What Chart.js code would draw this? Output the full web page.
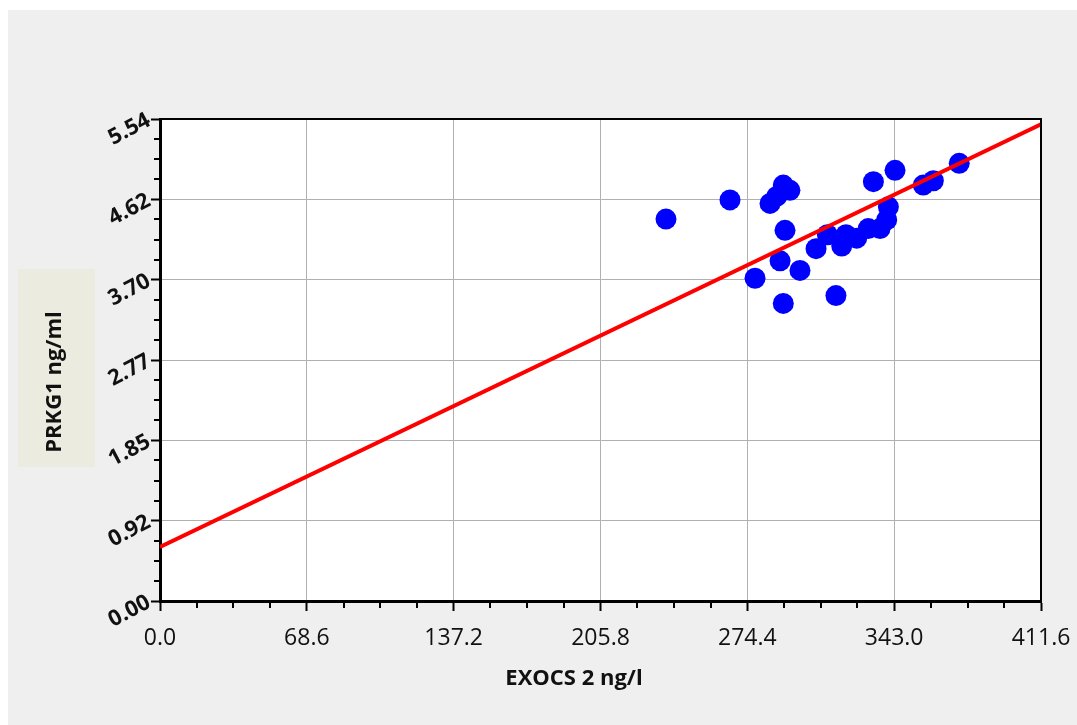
<!DOCTYPE html>
<html>
<head>
<meta charset="utf-8">
<script src="https://cdn.jsdelivr.net/npm/chart.js@4.4.1/dist/chart.umd.min.js"></script>
<style>
  html, body { margin: 0; padding: 0; background: #ffffff; }
  #panel { position: absolute; left: 8px; top: 10px; width: 1069px; height: 715px; background: #efefef; }
</style>
</head>
<body>
<div id="panel"><canvas id="scatter" width="1069" height="715"></canvas></div>
<script>
/* EXOCS 2 (ng/l) vs PRKG1 (ng/ml) */
var EXOCS2 = [236.4, 266.3, 278.0, 285.0, 288.1, 291.2, 294.3, 292.0, 289.7, 291.2,
              299.0, 306.5, 311.8, 315.8, 318.5, 320.5, 325.5, 330.9, 336.4, 339.5,
              340.3, 333.3, 343.4, 356.6, 361.3, 373.4];
var PRKG1  = [4.39, 4.61, 3.71, 4.57, 4.65, 4.78, 4.72, 4.26, 3.91, 3.42,
              3.80, 4.05, 4.21, 3.51, 4.08, 4.21, 4.17, 4.28, 4.28, 4.38,
              4.53, 4.82, 4.95, 4.78, 4.83, 5.03];

/* fitted line, end points */
var FIT_X = [0, 411.6];
var FIT_Y = [0.62, 5.48];

/* axis ticks */
var X_TICKS  = [0, 68.6, 137.2, 205.8, 274.4, 343.0, 411.6];
var X_LABELS = ['0.0', '68.6', '137.2', '205.8', '274.4', '343.0', '411.6'];
var Y_TICKS  = [0, 0.923, 1.847, 2.77, 3.693, 4.617, 5.54];
var Y_LABELS = ['0.00', '0.92', '1.85', '2.77', '3.70', '4.62', '5.54'];

var X_TITLE = 'EXOCS 2 ng/l';
var Y_TITLE = 'PRKG1 ng/ml';

var points = EXOCS2.map(function (x, i) { return { x: x, y: PRKG1[i] }; });
var fit = FIT_X.map(function (x, i) { return { x: x, y: FIT_Y[i] }; });

function subdivide(ticks, n) {
  var out = [];
  for (var i = 0; i < ticks.length - 1; i++) {
    for (var k = 1; k < n; k++) out.push(ticks[i] + (ticks[i + 1] - ticks[i]) * k / n);
  }
  return out;
}
var X_MINOR = subdivide(X_TICKS, 4);
var Y_MINOR = subdivide(Y_TICKS, 4);

/* white plot area, frame, minor ticks, axis titles */
var decor = {
  id: 'decor',
  beforeDraw: function (chart) {
    var a = chart.chartArea, ctx = chart.ctx;
    ctx.save();
    ctx.fillStyle = '#ffffff';
    ctx.fillRect(a.left, a.top, a.right - a.left, a.bottom - a.top);
    ctx.restore();
  },
  afterDraw: function (chart) {
    var a = chart.chartArea, ctx = chart.ctx;
    var xs = chart.scales.x, ys = chart.scales.y;
    ctx.save();
    ctx.strokeStyle = '#000';
    ctx.lineWidth = 2;
    ctx.beginPath();
    ctx.moveTo(a.left, a.top); ctx.lineTo(a.right, a.top); ctx.lineTo(a.right, a.bottom);
    ctx.stroke();

    ctx.lineWidth = 2;
    ctx.beginPath();
    X_MINOR.forEach(function (v) {
      var px = Math.round(xs.getPixelForValue(v));
      ctx.moveTo(px, a.bottom); ctx.lineTo(px, a.bottom + 7);
    });
    Y_MINOR.forEach(function (v) {
      var py = Math.round(ys.getPixelForValue(v));
      ctx.moveTo(a.left, py); ctx.lineTo(a.left - 6, py);
    });
    ctx.stroke();

    /* x title */
    ctx.fillStyle = '#111';
    ctx.font = 'bold 22px "Open Sans"';
    ctx.textAlign = 'center';
    ctx.textBaseline = 'middle';
    ctx.fillText(X_TITLE, 566, 669);

    /* y title in its tinted box */
    ctx.fillStyle = '#ebebdf';
    ctx.fillRect(10, 259, 77, 198);
    ctx.translate(47, 372);
    ctx.rotate(-Math.PI / 2);
    ctx.fillStyle = '#111';
    ctx.fillText(Y_TITLE, 0, 0);
    ctx.restore();
  }
};

new Chart(document.getElementById('scatter'), {
  type: 'scatter',
  data: {
    datasets: [
      {
        type: 'line',
        label: 'fit',
        data: fit,
        borderColor: '#ff0000',
        borderWidth: 4,
        pointRadius: 0,
        fill: false,
        order: 0
      },
      {
        label: 'samples',
        data: points,
        backgroundColor: '#0000ff',
        borderWidth: 0,
        pointRadius: 10.5,
        pointHoverRadius: 10.5,
        order: 1
      }
    ]
  },
  options: {
    responsive: false,
    animation: false,
    events: [],
    layout: { padding: { top: 109, right: 36, left: 0, bottom: 0 } },
    plugins: { legend: { display: false }, tooltip: { enabled: false } },
    scales: {
      x: {
        type: 'linear',
        min: 0,
        max: 411.6,
        afterBuildTicks: function (s) { s.ticks = X_TICKS.map(function (v) { return { value: v }; }); },
        afterFit: function (s) { s.height = 124; s.paddingLeft = 0; s.paddingRight = 0; },
        border: { display: true, color: '#000', width: 3 },
        grid: { color: '#b0b0b0', lineWidth: 1, tickColor: '#000', tickWidth: 2, tickLength: 10 },
        ticks: {
          color: '#111',
          font: { family: '"Open Sans"', size: 23 },
          padding: 14,
          maxRotation: 0,
          autoSkip: false,
          callback: function (v, i) { return X_LABELS[i]; }
        }
      },
      y: {
        type: 'linear',
        min: 0,
        max: 5.54,
        afterBuildTicks: function (s) { s.ticks = Y_TICKS.map(function (v) { return { value: v }; }); },
        afterFit: function (s) { s.width = 152; },
        border: { display: true, color: '#000', width: 3 },
        grid: { color: '#b0b0b0', lineWidth: 1, tickColor: '#000', tickWidth: 2, tickLength: 9 },
        ticks: {
          color: '#111',
          font: { family: '"Open Sans"', size: 22, weight: 'bold' },
          padding: 2,
          minRotation: 28,
          maxRotation: 28,
          autoSkip: false,
          callback: function (v, i) { return Y_LABELS[i]; }
        }
      }
    }
  },
  plugins: [decor]
});
</script>
</body>
</html>
